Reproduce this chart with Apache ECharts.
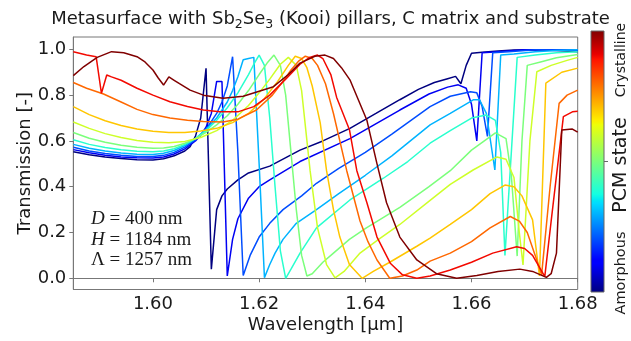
<!DOCTYPE html>
<html><head><meta charset="utf-8">
<script src="https://cdn.jsdelivr.net/npm/echarts@6/dist/echarts.min.js"></script>
<style>html,body{margin:0;padding:0;background:#fff}#c{width:631px;height:341px}</style>
</head><body><div id="c"></div>
<script>
// ---- tick labels ----
const xTicks = [1.60, 1.62, 1.64, 1.66, 1.68];
const yTicks = [0.0, 0.2, 0.4, 0.6, 0.8, 1.0];
// PCM state of each curve (0 = amorphous, 1 = crystalline)
const pcmState = [0.0, 0.1, 0.2, 0.3, 0.4, 0.5, 0.6, 0.7, 0.8, 0.9, 1.0];
const curveColors = ['#000080','#0000F3','#004DFF','#00B3FF','#29FFCE','#7BFF7B','#CEFF29','#FFC600','#FF6800','#F30900','#800000'];

// ---- transmission curves: [wavelength (um), transmission] ----
const state00 = [[1.585,0.553],[1.588,0.540],[1.591,0.530],[1.594,0.523],[1.597,0.518],[1.600,0.517],[1.602,0.522],[1.604,0.535],[1.606,0.556],[1.607,0.575],[1.608,0.62],[1.609,0.70],[1.610,0.917],[1.611,0.04],[1.612,0.30],[1.613,0.36],[1.614,0.39],[1.616,0.43],[1.618,0.46],[1.622,0.49],[1.6277,0.56],[1.632,0.60],[1.6371,0.655],[1.642,0.72],[1.6465,0.78],[1.650,0.825],[1.653,0.855],[1.6555,0.872],[1.657,0.882],[1.658,0.85],[1.659,0.93],[1.660,0.983],[1.662,0.987],[1.665,0.993],[1.668,0.997],[1.672,0.998],[1.676,0.995],[1.680,0.99]];
const state01 = [[1.585,0.562],[1.588,0.548],[1.591,0.537],[1.594,0.530],[1.597,0.526],[1.600,0.525],[1.602,0.530],[1.604,0.543],[1.606,0.565],[1.608,0.600],[1.609,0.625],[1.610,0.66],[1.611,0.72],[1.612,0.86],[1.613,0.86],[1.614,0.01],[1.615,0.17],[1.616,0.26],[1.618,0.35],[1.620,0.40],[1.622,0.43],[1.6277,0.51],[1.6371,0.61],[1.6465,0.735],[1.652,0.805],[1.6555,0.835],[1.6575,0.845],[1.659,0.83],[1.660,0.76],[1.661,0.60],[1.662,0.985],[1.665,0.99],[1.670,0.998],[1.675,0.998],[1.680,0.995]];
const state02 = [[1.585,0.572],[1.588,0.556],[1.591,0.545],[1.594,0.537],[1.597,0.532],[1.600,0.532],[1.602,0.537],[1.604,0.550],[1.606,0.573],[1.608,0.605],[1.610,0.65],[1.612,0.72],[1.613,0.77],[1.614,0.84],[1.615,0.968],[1.616,0.55],[1.617,0.012],[1.6183,0.10],[1.620,0.18],[1.622,0.24],[1.6245,0.30],[1.628,0.36],[1.6308,0.415],[1.635,0.48],[1.640,0.55],[1.645,0.63],[1.6522,0.75],[1.656,0.795],[1.6598,0.815],[1.661,0.81],[1.662,0.75],[1.663,0.62],[1.664,0.985],[1.667,0.99],[1.672,0.998],[1.676,0.998],[1.680,0.997]];
const state03 = [[1.585,0.585],[1.588,0.568],[1.591,0.556],[1.594,0.547],[1.597,0.542],[1.600,0.541],[1.602,0.546],[1.604,0.558],[1.606,0.58],[1.608,0.61],[1.610,0.65],[1.612,0.70],[1.614,0.77],[1.615,0.82],[1.616,0.88],[1.617,0.955],[1.618,0.96],[1.619,0.965],[1.620,0.50],[1.621,0.003],[1.622,0.06],[1.623,0.11],[1.6245,0.17],[1.627,0.24],[1.6308,0.30],[1.635,0.37],[1.640,0.45],[1.645,0.535],[1.6522,0.67],[1.656,0.72],[1.6604,0.78],[1.6615,0.78],[1.6628,0.72],[1.6644,0.473],[1.6655,0.975],[1.668,0.98],[1.672,0.99],[1.676,0.995],[1.680,0.998]];
const state04 = [[1.585,0.605],[1.588,0.585],[1.591,0.571],[1.594,0.561],[1.597,0.555],[1.600,0.553],[1.602,0.556],[1.604,0.566],[1.606,0.585],[1.608,0.61],[1.610,0.645],[1.612,0.69],[1.614,0.745],[1.616,0.81],[1.618,0.89],[1.619,0.935],[1.620,0.975],[1.621,0.93],[1.622,0.70],[1.623,0.40],[1.624,0.12],[1.625,0.0],[1.626,0.04],[1.6277,0.11],[1.6308,0.22],[1.6371,0.342],[1.6434,0.437],[1.648,0.51],[1.6522,0.59],[1.656,0.645],[1.660,0.70],[1.6628,0.713],[1.6645,0.69],[1.6655,0.55],[1.6663,0.10],[1.6675,0.55],[1.6686,0.965],[1.672,0.975],[1.676,0.985],[1.680,0.99]];
const state05 = [[1.585,0.637],[1.588,0.612],[1.591,0.594],[1.594,0.581],[1.597,0.572],[1.600,0.568],[1.602,0.569],[1.604,0.576],[1.606,0.59],[1.608,0.61],[1.610,0.637],[1.612,0.67],[1.614,0.71],[1.616,0.76],[1.618,0.82],[1.620,0.89],[1.6215,0.94],[1.6228,0.975],[1.624,0.93],[1.625,0.80],[1.626,0.55],[1.627,0.30],[1.628,0.10],[1.629,0.01],[1.630,0.02],[1.632,0.07],[1.634,0.11],[1.637,0.17],[1.6402,0.22],[1.6465,0.31],[1.652,0.40],[1.656,0.47],[1.660,0.56],[1.663,0.61],[1.6645,0.635],[1.6665,0.61],[1.6675,0.45],[1.6686,0.097],[1.6695,0.60],[1.6705,0.93],[1.673,0.945],[1.676,0.963],[1.680,0.978]];
const state06 = [[1.585,0.683],[1.588,0.655],[1.591,0.632],[1.594,0.615],[1.597,0.602],[1.600,0.594],[1.603,0.592],[1.606,0.598],[1.609,0.615],[1.612,0.645],[1.615,0.69],[1.618,0.755],[1.620,0.81],[1.622,0.87],[1.624,0.935],[1.6255,0.965],[1.627,0.93],[1.628,0.82],[1.6296,0.47],[1.631,0.22],[1.6327,0.06],[1.6343,0.002],[1.636,0.03],[1.639,0.11],[1.6425,0.17],[1.6465,0.235],[1.6522,0.34],[1.656,0.41],[1.6603,0.473],[1.6648,0.53],[1.6665,0.52],[1.668,0.44],[1.669,0.20],[1.6697,0.058],[1.671,0.60],[1.6723,0.902],[1.675,0.93],[1.678,0.952],[1.680,0.965]];
const state07 = [[1.585,0.75],[1.588,0.715],[1.591,0.688],[1.594,0.667],[1.597,0.652],[1.600,0.642],[1.603,0.637],[1.606,0.637],[1.609,0.643],[1.612,0.655],[1.615,0.68],[1.618,0.72],[1.621,0.785],[1.6235,0.86],[1.6255,0.93],[1.6268,0.97],[1.628,0.96],[1.629,0.92],[1.630,0.84],[1.6315,0.68],[1.6327,0.47],[1.634,0.30],[1.6352,0.18],[1.637,0.06],[1.6394,0.0],[1.6415,0.03],[1.6446,0.07],[1.6497,0.14],[1.6522,0.175],[1.656,0.235],[1.660,0.30],[1.6635,0.37],[1.6663,0.407],[1.668,0.40],[1.6695,0.36],[1.6715,0.255],[1.6728,0.01],[1.674,0.852],[1.677,0.90],[1.680,0.918]];
const state08 = [[1.585,0.855],[1.5875,0.83],[1.5907,0.805],[1.594,0.77],[1.597,0.738],[1.600,0.715],[1.6032,0.70],[1.6065,0.69],[1.6095,0.685],[1.6132,0.683],[1.616,0.695],[1.6195,0.735],[1.6225,0.80],[1.6245,0.86],[1.626,0.91],[1.6275,0.95],[1.6287,0.97],[1.630,0.96],[1.631,0.93],[1.6325,0.85],[1.634,0.72],[1.6365,0.47],[1.639,0.25],[1.6405,0.16],[1.6422,0.08],[1.6446,0.0],[1.647,0.01],[1.6497,0.036],[1.6522,0.075],[1.656,0.11],[1.660,0.16],[1.6635,0.22],[1.6673,0.27],[1.669,0.25],[1.6705,0.20],[1.672,0.10],[1.6732,0.015],[1.6748,0.40],[1.6765,0.764],[1.678,0.80],[1.680,0.822]];
const state09 = [[1.585,0.99],[1.5875,0.975],[1.5893,0.968],[1.5903,0.808],[1.5913,0.888],[1.5922,0.88],[1.594,0.865],[1.597,0.83],[1.600,0.80],[1.6032,0.771],[1.6065,0.75],[1.6095,0.735],[1.6126,0.727],[1.616,0.727],[1.619,0.75],[1.622,0.80],[1.625,0.87],[1.6277,0.935],[1.6295,0.965],[1.631,0.975],[1.632,0.96],[1.6335,0.89],[1.6346,0.79],[1.637,0.65],[1.6384,0.47],[1.6403,0.33],[1.6422,0.18],[1.6447,0.066],[1.647,0.015],[1.6497,0.0],[1.6522,0.01],[1.656,0.036],[1.660,0.07],[1.664,0.11],[1.6685,0.138],[1.670,0.13],[1.6715,0.10],[1.673,0.04],[1.6738,0.007],[1.675,0.25],[1.6773,0.706],[1.679,0.727],[1.680,0.73]];
const state10 = [[1.585,0.885],[1.587,0.925],[1.5895,0.965],[1.5922,0.99],[1.5945,0.985],[1.597,0.968],[1.5985,0.945],[1.600,0.91],[1.601,0.875],[1.602,0.844],[1.603,0.88],[1.604,0.865],[1.605,0.85],[1.607,0.822],[1.6095,0.80],[1.6132,0.786],[1.617,0.795],[1.6227,0.837],[1.6255,0.89],[1.6277,0.94],[1.6305,0.97],[1.6324,0.975],[1.634,0.96],[1.6355,0.92],[1.6371,0.867],[1.6403,0.69],[1.6422,0.50],[1.644,0.33],[1.6465,0.18],[1.6497,0.08],[1.6534,0.02],[1.6572,0.0],[1.661,0.012],[1.665,0.03],[1.6691,0.04],[1.6715,0.03],[1.6741,0.004],[1.675,0.02],[1.676,0.11],[1.677,0.648],[1.679,0.652],[1.680,0.638]];
const curves = [state00,state01,state02,state03,state04,state05,state06,state07,state08,state09,state10];

// ---- parameters text ----
const paramD = '400'; const paramH = '1184'; const paramL = '1257';

const chart = echarts.init(document.getElementById('c'), null, {renderer:'canvas'});
const FONT = 'DejaVu Sans';
const FS = 18;
const jetStops = [[0,'#000080'],[0.11,'#0000FF'],[0.125,'#0000FF'],[0.34,'#00DBFF'],[0.35,'#00E5F7'],[0.375,'#14FFE2'],[0.64,'#EEFF08'],[0.65,'#F7F500'],[0.66,'#FFEC00'],[0.89,'#FF1300'],[0.91,'#E80000'],[1,'#800000']];
const series = curves.map((d,i)=>({
  type:'line', data:d, showSymbol:false, symbol:'none', smooth:false,
  lineStyle:{color:curveColors[i], width:1.5}, itemStyle:{color:curveColors[i]},
  animation:false, silent:true, z:2+i
}));
const option = {
  animation:false,
  backgroundColor:'#fff',
  title:{
    text:'Metasurface with Sb{s|2}Se{s|3} (Kooi) pillars, C matrix and substrate',
    left:325.5, top:5, textAlign:'center',
    textStyle:{fontFamily:FONT, fontSize:FS, fontWeight:'normal', color:'#1a1a1a',
      rich:{s:{fontFamily:FONT, fontSize:12.5, color:'#1a1a1a', verticalAlign:'bottom', padding:[0,0,-3,0]}}}
  },
  grid:{left:73.3, right:53.3, top:37, bottom:51.5, show:true, borderColor:'#777', borderWidth:1, backgroundColor:'transparent'},
  xAxis:{type:'value', min:1.585, max:1.68,
    name:'Wavelength [μm]', nameLocation:'middle', nameGap:27, nameMoveOverlap:false,
    nameTextStyle:{fontFamily:FONT, fontSize:FS, color:'#1a1a1a'},
    axisLine:{show:true, lineStyle:{color:'#777'}},
    axisTick:{show:true, customValues:xTicks, length:4, inside:false, lineStyle:{color:'#777'}},
    axisLabel:{customValues:xTicks, formatter:v=>v.toFixed(2), fontFamily:FONT, fontSize:FS, color:'#1a1a1a', margin:6},
    splitLine:{show:false}},
  yAxis:{type:'value', min:-0.049, max:1.054,
    name:'Transmission [-]', nameLocation:'middle', nameGap:39, nameRotate:90, nameMoveOverlap:false,
    nameTextStyle:{fontFamily:FONT, fontSize:FS, color:'#1a1a1a'},
    axisLine:{show:true, lineStyle:{color:'#777'}},
    axisTick:{show:true, customValues:yTicks, length:4, inside:false, lineStyle:{color:'#777'}},
    axisLabel:{customValues:yTicks, formatter:v=>v.toFixed(1), fontFamily:FONT, fontSize:FS, color:'#1a1a1a', margin:7},
    splitLine:{show:false}},
  series:series,
  graphic:[
    {type:'rect', shape:{x:591,y:31,width:13,height:261}, style:{fill:new echarts.graphic.LinearGradient(0,1,0,0,jetStops.map(s=>({offset:s[0],color:s[1]}))), stroke:'#666', lineWidth:1}, z:10},
    {type:'line', shape:{x1:604,y1:161.5,x2:608,y2:161.5}, style:{stroke:'#666', lineWidth:1}, z:10},
    {type:'text', x:621, y:60, rotation:Math.PI/2, style:{text:'Crystalline', fontFamily:FONT, fontSize:14, fill:'#1a1a1a', align:'center', verticalAlign:'middle'}, z:10},
    {type:'text', x:621, y:165, rotation:Math.PI/2, style:{text:'PCM state', fontFamily:FONT, fontSize:19, fill:'#1a1a1a', align:'center', verticalAlign:'middle'}, z:10},
    {type:'text', x:621, y:273, rotation:Math.PI/2, style:{text:'Amorphous', fontFamily:FONT, fontSize:14.5, fill:'#1a1a1a', align:'center', verticalAlign:'middle'}, z:10},
    {type:'text', x:91, y:219, style:{text:'{i|D} = '+paramD+' nm', fontFamily:'Liberation Serif', fontSize:19, fill:'#1a1a1a', verticalAlign:'middle', rich:{i:{fontFamily:'Liberation Serif', fontStyle:'italic', fontSize:19}}}, z:10},
    {type:'text', x:91, y:240, style:{text:'{i|H} = '+paramH+' nm', fontFamily:'Liberation Serif', fontSize:19, fill:'#1a1a1a', verticalAlign:'middle', rich:{i:{fontFamily:'Liberation Serif', fontStyle:'italic', fontSize:19}}}, z:10},
    {type:'text', x:91, y:260.5, style:{text:'Λ = '+paramL+' nm', fontFamily:'Liberation Serif', fontSize:19, fill:'#1a1a1a', verticalAlign:'middle'}, z:10}
  ]
};
chart.setOption(option);
</script></body></html>
